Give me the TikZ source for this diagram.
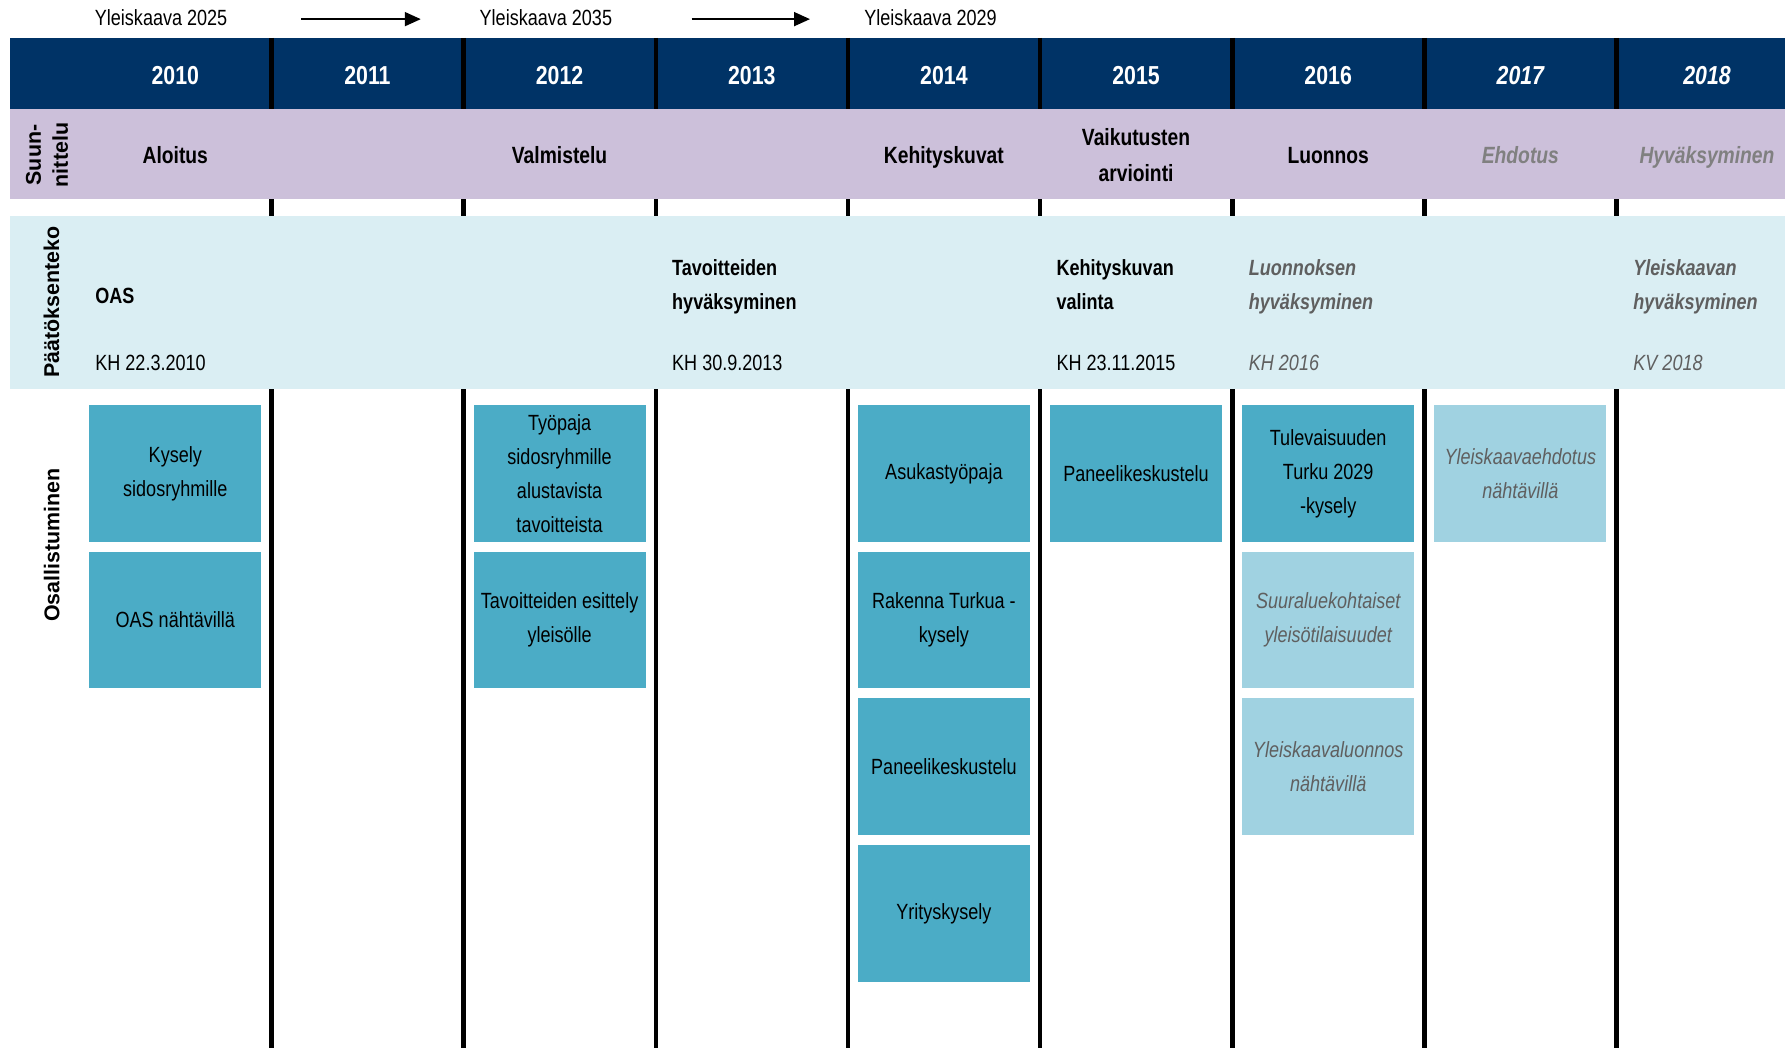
\documentclass[tikz,border=0pt]{standalone}
\usepackage{fontspec}
\setmainfont{Liberation Sans}[FakeStretch=0.82]
\newfontfamily\widesans{Liberation Sans}
\usetikzlibrary{arrows.meta}

\definecolor{navyband}{HTML}{003366}
\definecolor{lilacband}{HTML}{CCC0DA}
\definecolor{paleband}{HTML}{DAEEF3}
\definecolor{tealbox}{HTML}{4BACC6}
\definecolor{paleteal}{HTML}{A0D2E1}
\definecolor{greytext}{HTML}{5F5F5F}
\definecolor{lightgrey}{HTML}{808080}

\tikzset{
  planname/.style={anchor=base west, inner sep=0pt, font=\fontsize{11}{13}\selectfont},
  planarrow/.style={line width=0.9pt, -{Triangle[length=8pt,width=7pt]}},
  yearlabel/.style={anchor=base, text=white, font=\fontsize{13}{15}\selectfont\bfseries},
  phaselabel/.style={anchor=base, align=center, font=\fontsize{11.75}{18}\selectfont\bfseries},
  rowlabel/.style={rotate=90, align=center, font=\widesans\fontsize{10.7}{13.5}\selectfont\bfseries},
  decision/.style={anchor=base west, align=left, inner sep=0pt, font=\fontsize{11}{17}\selectfont\bfseries},
  datelabel/.style={anchor=base west, inner sep=0pt, font=\fontsize{11}{13}\selectfont},
  activity/.style={fill=tealbox, minimum width=86pt, minimum height=68.35pt, inner sep=0pt, align=center, font=\fontsize{11}{17}\selectfont},
  pending/.style={activity, fill=paleteal, text=greytext, font=\fontsize{11}{17}\selectfont\itshape},
  divider/.style={line width=2.25pt},
}

\begin{document}
\begin{tikzpicture}[x=0.5pt, y=-0.5pt]
\useasboundingbox (0,0) rectangle (1785,1048);

% Plan names above the timeline
\node[planname] (yk2025) at (94.5,26) {Yleiskaava 2025};
\node[planname] (yk2035) at (479.3,26) {Yleiskaava 2035};
\node[planname] (yk2029) at (864,26) {Yleiskaava 2029};
\draw[planarrow] ([xshift=103.45pt, yshift=-0.5pt]yk2025.west) -- ([xshift=-29.25pt, yshift=-0.5pt]yk2035.west);
\draw[planarrow] ([xshift=106.2pt, yshift=-0.5pt]yk2035.west) -- ([xshift=-27pt, yshift=-0.5pt]yk2029.west);

% Year band and column dividers
\fill[navyband] (10,38) rectangle (1785,109);
\draw[divider] (271.5,38) -- (271.5,1048);
\draw[divider] (463.65,38) -- (463.65,1048);
\draw[divider] (655.8,38) -- (655.8,1048);
\draw[divider] (847.95,38) -- (847.95,1048);
\draw[divider] (1040.1,38) -- (1040.1,1048);
\draw[divider] (1232.25,38) -- (1232.25,1048);
\draw[divider] (1424.4,38) -- (1424.4,1048);
\draw[divider] (1616.55,38) -- (1616.55,1048);

% Planning and decision bands
\fill[lilacband] (10,109) rectangle (1785,199);
\fill[paleband] (10,216) rectangle (1785,389);

% Years
\node[yearlabel] (y2010) at (175.3,85) {2010};
\node[yearlabel] (y2011) at (367.45,85) {2011};
\node[yearlabel] (y2012) at (559.6,85) {2012};
\node[yearlabel] (y2013) at (751.75,85) {2013};
\node[yearlabel] (y2014) at (943.9,85) {2014};
\node[yearlabel] (y2015) at (1136.05,85) {2015};
\node[yearlabel] (y2016) at (1328.2,85) {2016};
\node[yearlabel, font=\fontsize{13}{15}\selectfont\bfseries\itshape] (y2017) at (1520.35,85) {2017};
\node[yearlabel, font=\fontsize{13}{15}\selectfont\bfseries\itshape] (y2018) at (1707,85) {2018};

% Row titles
\node[rowlabel] (suunnittelu) at (47,155) {Suun-\\nittelu};
\node[rowlabel, anchor=base] (paatoksenteko) at (59,302) {Päätöksenteko};
\node[rowlabel, anchor=base] (osallistuminen) at (59.3,545) {Osallistuminen};

% Planning phases
\node[phaselabel] (aloitus) at (175.3,163.3) {Aloitus};
\node[phaselabel] (valmistelu) at (559.6,163.3) {Valmistelu};
\node[phaselabel] (kehityskuvat) at (943.9,163.3) {Kehityskuvat};
\node[phaselabel] (vaikutukset) at (1136.05,181.7) {Vaikutusten\\arviointi};
\node[phaselabel] (luonnos) at (1328.2,163.3) {Luonnos};
\node[phaselabel, text=lightgrey, font=\fontsize{11.75}{18}\selectfont\bfseries\itshape] (ehdotus) at (1520.35,163.3) {Ehdotus};
\node[phaselabel, text=lightgrey, font=\fontsize{11.75}{18}\selectfont\bfseries\itshape] (hyvaksyminen) at (1707,163.3) {Hyväksyminen};

% Decisions
\node[decision] (oas) at (95,304) {OAS};
\node[datelabel] (oaspvm) at (95,370.7) {KH 22.3.2010};
\node[decision] (tavoitteet) at (671.8,310) {Tavoitteiden\\hyväksyminen};
\node[datelabel] (tavoitteetpvm) at (671.8,370.7) {KH 30.9.2013};
\node[decision] (valinta) at (1056.1,310) {Kehityskuvan\\valinta};
\node[datelabel] (valintapvm) at (1056.1,370.7) {KH 23.11.2015};
\node[decision, text=greytext, font=\fontsize{11}{17}\selectfont\bfseries\itshape] (luonnoshyv) at (1248.5,310) {Luonnoksen\\hyväksyminen};
\node[datelabel, text=greytext, font=\fontsize{11}{13}\selectfont\itshape] (luonnospvm) at (1248.5,370.7) {KH 2016};
\node[decision, text=greytext, font=\fontsize{11}{17}\selectfont\bfseries\itshape] (ykhyv) at (1633,310) {Yleiskaavan\\hyväksyminen};
\node[datelabel, text=greytext, font=\fontsize{11}{13}\selectfont\itshape] (ykhyvpvm) at (1633,370.7) {KV 2018};

% Participation
\node[activity] (kysely) at (175.3,473.35) {Kysely\\sidosryhmille};
\node[activity] (oasnahtavilla) at (175.3,620.05) {OAS nähtävillä};
\node[activity] (tyopaja) at (559.6,473.35) {Työpaja\\sidosryhmille\\alustavista\\tavoitteista};
\node[activity] (esittely) at (559.6,620.05) {Tavoitteiden esittely\\yleisölle};
\node[activity] (asukastyopaja) at (943.9,473.35) {Asukastyöpaja};
\node[activity] (rakenna) at (943.9,620.05) {Rakenna Turkua -\\kysely};
\node[activity] (paneeli2014) at (943.9,766.75) {Paneelikeskustelu};
\node[activity] (yrityskysely) at (943.9,913.45) {Yrityskysely};
\node[activity] (paneeli2015) at (1136.05,473.35) {Paneelikeskustelu};
\node[activity] (tulevaisuus) at (1328.2,473.35) {Tulevaisuuden\\Turku 2029\\-kysely};
\node[pending] (yleisotilaisuudet) at (1328.2,620.05) {Suuraluekohtaiset\\yleisötilaisuudet};
\node[pending] (luonnosnahtavilla) at (1328.2,766.75) {Yleiskaavaluonnos\\nähtävillä};
\node[pending] (ehdotusnahtavilla) at (1520.35,473.35) {Yleiskaavaehdotus\\nähtävillä};
\end{tikzpicture}
\end{document}
